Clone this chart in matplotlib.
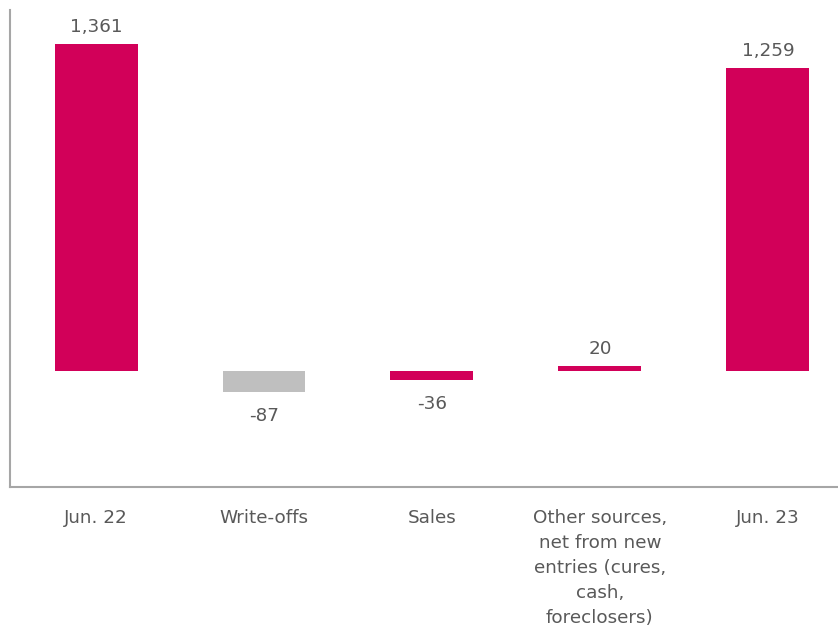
import numpy as np
import matplotlib.pyplot as plt

plt.rcParams['font.family'] = ['DejaVu Sans']

# 数据
categories = ['Jun. 22', 'Write-offs', 'Sales',
              'Other sources,\nnet from new\nentries (cures,\ncash,\nforeclosers)', 'Jun. 23']
values = [1361, -87, -36, 20, 1259]
colors = ['#d20059', '#bfbfbf', '#d20059', '#d20059', '#d20059']
labels = ['1,361', '-87', '-36', '20', '1,259']

fig = plt.figure(figsize=(8.38, 6.34), dpi=100)
ax = fig.add_axes([10 / 838, 147 / 634, 1 - 10 / 838, (487 - 10) / 634])

x = np.arange(len(values))
ax.bar(x, values, width=0.494, color=colors)

# 数值标签
for xi, v, lab in zip(x, values, labels):
    if v >= 0:
        ax.annotate(lab, (xi, v), xytext=(0, 6), textcoords='offset points',
                    ha='center', va='bottom', fontsize=13.2, color='#595959')
    else:
        ax.annotate(lab, (xi, v), xytext=(0, -11), textcoords='offset points',
                    ha='center', va='top', fontsize=13.2, color='#595959')

ax.set_xlim(-0.512, 4.417)
ax.set_ylim(-483, 1502)
ax.set_xticks(x)
ax.set_xticklabels(categories, fontsize=13.2, color='#595959', linespacing=1.5, va='top')
ax.tick_params(axis='x', length=0, pad=16)
ax.set_yticks([])

for s in ['top', 'right']:
    ax.spines[s].set_visible(False)
for s in ['left', 'bottom']:
    ax.spines[s].set_color('#a6a6a6')
    ax.spines[s].set_linewidth(1.5)

fig.savefig('out.png', dpi=100)
